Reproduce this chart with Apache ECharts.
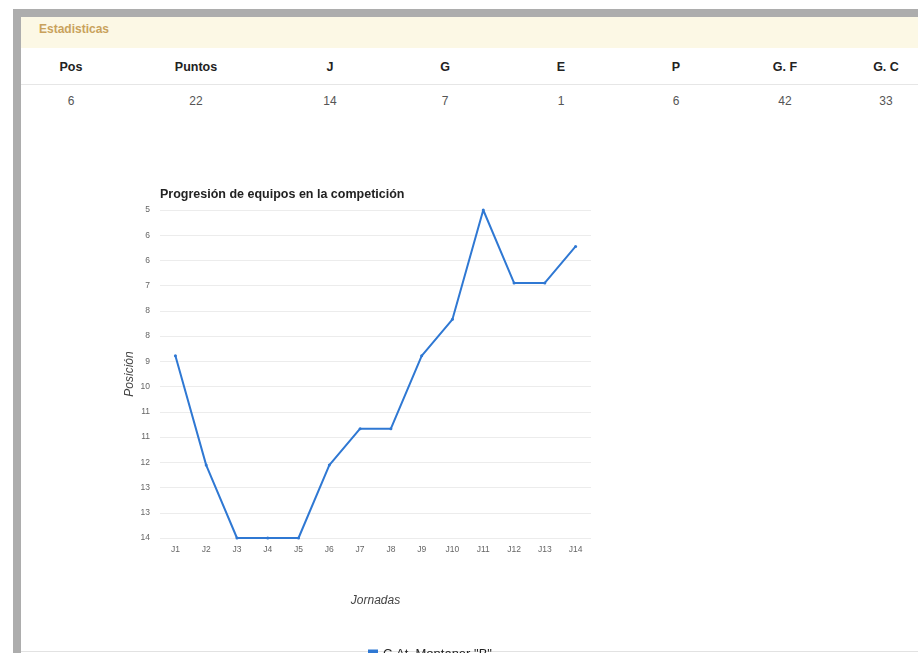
<!DOCTYPE html>
<html>
<head>
<meta charset="utf-8">
<script src="https://cdn.jsdelivr.net/npm/echarts@6/dist/echarts.min.js"></script>
<style>
  html, body { margin:0; padding:0; width:918px; height:653px; overflow:hidden; background:#fff; font-family:"Liberation Sans", Arial, sans-serif; }
  #frameTop { position:absolute; left:13px; top:9px; width:905px; height:8px; background:#adadad; }
  #frameLeft { position:absolute; left:13px; top:9px; width:8px; height:644px; background:#adadad; }
  #bottomLine { position:absolute; left:21px; top:651px; width:897px; height:1px; background:#e2e2e2; }
  #panelHead { position:absolute; left:21px; top:17px; width:897px; height:31px; background:#fcf8e5; }
  #panelHead span { position:absolute; left:18px; top:5px; font-size:12px; font-weight:bold; color:#c9a25c; }
  #rowLine { position:absolute; left:21px; top:84px; width:897px; height:1px; background:#e6e6e6; }
  .cell { position:absolute; transform:translate(-50%,-50%); white-space:nowrap; }
  .hd { font-size:12.5px; font-weight:bold; color:#222; }
  .vl { font-size:12px; color:#555; }
  #chart { position:absolute; left:0; top:0; width:918px; height:653px; }
</style>
</head>
<body>
<div id="frameTop"></div>
<div id="frameLeft"></div>
<div id="panelHead"><span>Estadisticas</span></div>
<div id="rowLine"></div>
<div id="bottomLine"></div>
<div id="table"></div>
<div id="chart"></div>
<script>
// ---- data ----
const statHeaders = ["Pos", "Puntos", "J", "G", "E", "P", "G. F", "G. C"];
const statValues = ["6", "22", "14", "7", "1", "6", "42", "33"];
const jornadas = ["J1","J2","J3","J4","J5","J6","J7","J8","J9","J10","J11","J12","J13","J14"];
const posiciones = [9, 12, 14, 14, 14, 12, 11, 11, 9, 8, 5, 7, 7, 6];
const teamName = 'C.At. Montaner "B"';
const chartTitle = "Progresión de equipos en la competición";

// ---- table (HTML) ----
const colX = [71, 196, 330, 445, 561, 676, 785, 886];
const tbl = document.getElementById("table");
statHeaders.forEach((h, i) => {
  const d = document.createElement("div");
  d.className = "cell hd"; d.style.left = colX[i] + "px"; d.style.top = "67px"; d.textContent = h;
  tbl.appendChild(d);
  const v = document.createElement("div");
  v.className = "cell vl"; v.style.left = colX[i] + "px"; v.style.top = "101px"; v.textContent = statValues[i];
  tbl.appendChild(v);
});

// ---- chart ----
const chart = echarts.init(document.getElementById("chart"));
chart.setOption({
  backgroundColor: "transparent",
  animation: false,
  title: {
    text: chartTitle, left: 155, top: 183,
    textStyle: { fontSize: 12.5, fontWeight: "bold", color: "#222", fontFamily: "Liberation Sans, Arial, sans-serif" }
  },
  legend: {
    left: 363, top: 643, itemWidth: 10, itemHeight: 10, icon: "rect",
    textStyle: { fontSize: 13, color: "#222", fontFamily: "Liberation Sans, Arial, sans-serif" },
    data: [teamName]
  },
  grid: { left: 160, top: 210, width: 431, height: 328, containLabel: false },
  xAxis: {
    type: "category", data: jornadas, boundaryGap: true,
    name: "Jornadas", nameLocation: "middle", nameGap: 57,
    nameTextStyle: { fontSize: 12, fontStyle: "italic", color: "#444", fontFamily: "Liberation Sans, Arial, sans-serif" },
    axisLine: { show: false }, axisTick: { show: false },
    axisLabel: { fontSize: 8.5, color: "#666", margin: 7, fontFamily: "Liberation Sans, Arial, sans-serif" },
    splitLine: { show: false }
  },
  yAxis: {
    type: "value", inverse: true, min: 5, max: 14, interval: 9 / 13,
    name: "Posición", nameLocation: "middle", nameGap: 24, nameRotate: 90,
    nameTextStyle: { fontSize: 12, fontStyle: "italic", color: "#444", fontFamily: "Liberation Sans, Arial, sans-serif" },
    axisLine: { show: false }, axisTick: { show: false },
    axisLabel: { fontSize: 8.5, color: "#666", margin: 10, formatter: v => String(Math.round(v)), fontFamily: "Liberation Sans, Arial, sans-serif" },
    splitLine: { show: true, lineStyle: { color: "#ececec", width: 1 } }
  },
  series: [{
    name: teamName, type: "line", data: posiciones,
    color: "#2f78d3",
    lineStyle: { width: 2, color: "#2f78d3" },
    symbol: "circle", symbolSize: 3, showSymbol: true,
    itemStyle: { color: "#2f78d3" }
  }]
});
</script>
</body>
</html>
